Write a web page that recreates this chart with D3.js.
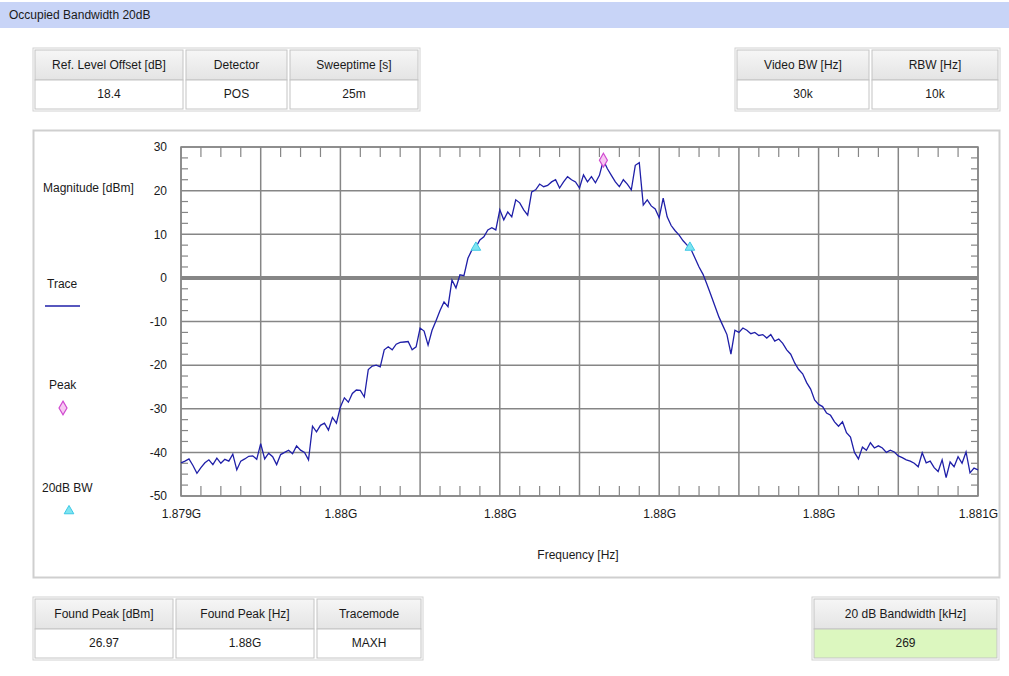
<!DOCTYPE html>
<html>
<head>
<meta charset="utf-8">
<script src="https://cdn.jsdelivr.net/npm/d3@7"></script>
<style>
  body { margin: 0; background: #fff; }
  text { font-family: "Liberation Sans", Arial, sans-serif; font-size: 12px; fill: #1a1a1a; }
</style>
</head>
<body>
<svg id="chart" width="1009" height="676"></svg>
<script>
// sweep: 201 points from 1879 MHz to 1881 MHz
const freqStartMHz = 1879
const freqStopMHz = 1881

// trace levels in dBm
const traceLevels = [
  -42.4, -42.0, -41.5, -43.0, -44.8, -43.5, -42.4, -41.7, -42.8, -41.3,
  -42.5, -41.6, -42.0, -40.4, -44.0, -42.0, -41.5, -40.9, -40.8, -41.6,
  -38.0, -41.5, -40.2, -41.0, -42.8, -40.5, -40.0, -39.5, -40.3, -38.5,
  -39.5, -40.0, -41.7, -34.0, -35.3, -33.8, -33.3, -34.9, -32.0, -33.3,
  -29.6, -27.5, -28.5, -26.5, -25.7, -25.8, -27.3, -21.0, -20.2, -20.0,
  -20.4, -16.5, -15.8, -16.5, -15.2, -14.8, -14.7, -14.6, -16.5, -15.8,
  -11.5, -12.2, -15.4, -12.0, -9.8, -7.5, -5.5, -6.6, -0.5, -2.3,
  0.7, 0.5, 4.5, 6.4, 7.0, 8.7, 9.4, 11.0, 11.5, 11.0,
  15.6, 13.3, 15.1, 14.0, 17.9, 17.2, 15.6, 14.4, 19.7, 20.2,
  21.5, 20.9, 21.2, 22.0, 22.5, 20.6, 22.0, 23.2, 22.5, 22.0,
  20.6, 23.6, 22.0, 23.2, 21.8, 23.5, 26.97, 25.0, 23.5, 22.0,
  20.9, 22.5, 21.5, 20.2, 25.8, 26.4, 16.7, 17.9, 16.5, 15.8,
  13.8, 18.3, 14.0, 12.0, 10.8, 9.8, 8.5, 7.5, 6.5, 4.5,
  2.5, 0.8, -1.5, -4.0, -6.5, -9.0, -11.0, -13.0, -17.5, -12.0,
  -12.5, -11.5, -12.0, -12.8, -12.5, -13.2, -13.0, -13.8, -13.0, -14.5,
  -14.0, -15.0, -16.5, -17.5, -19.5, -21.0, -22.0, -24.0, -25.5, -28.0,
  -29.0, -29.5, -31.0, -31.5, -33.0, -34.0, -33.0, -35.5, -36.5, -40.0,
  -41.5, -38.8, -39.5, -37.8, -39.0, -38.5, -39.0, -40.0, -39.5, -39.9,
  -40.8, -41.2, -41.7, -42.0, -42.5, -43.3, -40.1, -42.4, -42.0, -43.5,
  -44.4, -41.7, -45.8, -42.2, -43.3, -41.0, -42.5, -39.9, -44.7, -43.6,
  -44.0
]

const peakFreqMHz = 1880.06
const peakLevel = 26.97
const bwFreqsMHz = [1879.74, 1880.277]
const bwLevel = 6.97

const yTicks = [30, 20, 10, 0, -10, -20, -30, -40, -50]
const xLabelFreqs = [1879, 1879.4, 1879.8, 1880.2, 1880.6, 1881]
const xTickLabels = ["1.879G", "1.88G", "1.88G", "1.88G", "1.88G", "1.881G"]

const topLeftHeaders = ["Ref. Level Offset [dB]", "Detector", "Sweeptime [s]"]
const topLeftValues = ["18.4", "POS", "25m"]
const topRightHeaders = ["Video BW [Hz]", "RBW [Hz]"]
const topRightValues = ["30k", "10k"]
const bottomLeftHeaders = ["Found Peak [dBm]", "Found Peak [Hz]", "Tracemode"]
const bottomLeftValues = ["26.97", "1.88G", "MAXH"]
const bottomRightHeaders = ["20 dB Bandwidth [kHz]"]
const bottomRightValues = ["269"]

const svg = d3.select("#chart")
const gridColor = "#868686"

let defs = svg.append("defs")
let grad = defs.append("linearGradient").attr("id", "hdr").attr("x1", 0).attr("y1", 0).attr("x2", 0).attr("y2", 1)
grad.append("stop").attr("offset", "0%").attr("stop-color", "#f6f6f6")
grad.append("stop").attr("offset", "100%").attr("stop-color", "#e4e4e4")

// title bar
svg.append("rect").attr("x", 0).attr("y", 2).attr("width", 1009).attr("height", 26).attr("fill", "#c8d4f7")
svg.append("text").attr("x", 9).attr("y", 19).text("Occupied Bandwidth 20dB")

// small parameter tables
function table(x0, y0, widths, headers, values, valueFill) {
  let g = svg.append("g")
  let total = d3.sum(widths) + (widths.length - 1) * 3 + 4
  g.append("rect").attr("x", x0).attr("y", y0).attr("width", total).attr("height", 63)
    .attr("fill", "#fff").attr("stroke", "#d2d2d2")
  let cx = x0 + 2
  widths.forEach((w, i) => {
    g.append("rect").attr("x", cx).attr("y", y0 + 2).attr("width", w).attr("height", 30)
      .attr("fill", "url(#hdr)").attr("stroke", "#c4c4c4")
    g.append("rect").attr("x", cx).attr("y", y0 + 32).attr("width", w).attr("height", 29)
      .attr("fill", valueFill).attr("stroke", "#c4c4c4")
    g.append("text").attr("x", cx + w / 2).attr("y", y0 + 21).attr("text-anchor", "middle").text(headers[i])
    g.append("text").attr("x", cx + w / 2).attr("y", y0 + 50).attr("text-anchor", "middle").text(values[i])
    cx += w + 3
  })
}

table(33, 48, [148, 101, 128], topLeftHeaders, topLeftValues, "#fff")
table(735, 48, [132, 126], topRightHeaders, topRightValues, "#fff")
table(33, 597, [138, 138, 104], bottomLeftHeaders, bottomLeftValues, "#fff")
table(812, 597, [183], bottomRightHeaders, bottomRightValues, "#dcf7bf")

// chart panel
svg.append("rect").attr("x", 33.5).attr("y", 130.5).attr("width", 966).attr("height", 447)
  .attr("fill", "#fff").attr("stroke", "#cfcfcf").attr("stroke-width", 2)

const x = d3.scaleLinear().domain([freqStartMHz, freqStopMHz]).range([181, 978])
const y = d3.scaleLinear().domain([-50, 30]).range([496, 147])
const step = (freqStopMHz - freqStartMHz) / (traceLevels.length - 1)

let plot = svg.append("g")

// grid lines
plot.append("g").selectAll("line").data(d3.range(0, 11).map(i => freqStartMHz + i * 0.2))
  .enter().append("line")
    .attr("x1", d => x(d)).attr("x2", d => x(d))
    .attr("y1", y(30)).attr("y2", y(-50))
    .attr("stroke", gridColor).attr("stroke-width", 1.5)

plot.append("g").selectAll("line").data(yTicks)
  .enter().append("line")
    .attr("x1", x(freqStartMHz)).attr("x2", x(freqStopMHz))
    .attr("y1", d => y(d)).attr("y2", d => y(d))
    .attr("stroke", gridColor)
    .attr("stroke-width", d => d === 0 ? 4 : 1.5)

// minor ticks
let xMinor = d3.range(0, 41).map(i => freqStartMHz + i * 0.05).filter((d, i) => i % 4 !== 0)
let yMinor = d3.range(0, 33).map(i => -50 + i * 2.5).filter((d, i) => i % 4 !== 0)

plot.append("g").selectAll("line").data(xMinor).enter().append("line")
  .attr("x1", d => x(d)).attr("x2", d => x(d))
  .attr("y1", y(30)).attr("y2", y(30) + 10)
  .attr("stroke", gridColor).attr("stroke-width", 1.2)
plot.append("g").selectAll("line").data(xMinor).enter().append("line")
  .attr("x1", d => x(d)).attr("x2", d => x(d))
  .attr("y1", y(-50)).attr("y2", y(-50) - 10)
  .attr("stroke", gridColor).attr("stroke-width", 1.2)
plot.append("g").selectAll("line").data(yMinor).enter().append("line")
  .attr("x1", x(freqStartMHz)).attr("x2", x(freqStartMHz) + 7)
  .attr("y1", d => y(d)).attr("y2", d => y(d))
  .attr("stroke", gridColor).attr("stroke-width", 1.2)
plot.append("g").selectAll("line").data(yMinor).enter().append("line")
  .attr("x1", x(freqStopMHz)).attr("x2", x(freqStopMHz) - 7)
  .attr("y1", d => y(d)).attr("y2", d => y(d))
  .attr("stroke", gridColor).attr("stroke-width", 1.2)

plot.append("rect").attr("x", x(freqStartMHz)).attr("y", y(30))
  .attr("width", x(freqStopMHz) - x(freqStartMHz)).attr("height", y(-50) - y(30))
  .attr("fill", "none").attr("stroke", gridColor).attr("stroke-width", 1.5)

// axes labels
let yAxis = d3.axisLeft(y).tickValues(yTicks).tickSize(0).tickPadding(14)
  .tickFormat(d => String(d))
let yg = svg.append("g").attr("transform", `translate(${x(freqStartMHz)},0)`).call(yAxis)
yg.select(".domain").remove()

let xAxis = d3.axisBottom(x).tickValues(xLabelFreqs).tickSize(0).tickPadding(13)
  .tickFormat((d, i) => xTickLabels[i])
let xg = svg.append("g").attr("transform", `translate(0,${y(-50)})`).call(xAxis)
xg.select(".domain").remove()

svg.selectAll(".tick text").style("font-family", "'Liberation Sans', Arial, sans-serif")
  .style("font-size", "12px").attr("fill", "#1a1a1a")

svg.append("text").attr("x", 578).attr("y", 559).attr("text-anchor", "middle").text("Frequency [Hz]")

// trace
let line = d3.line()
  .x((d, i) => x(freqStartMHz + i * step))
  .y(d => y(d))

plot.append("path").datum(traceLevels)
  .attr("d", line)
  .attr("fill", "none")
  .attr("stroke", "#1f1fa8")
  .attr("stroke-width", 1.3)

// markers
const diamond = d3.symbol().type(d3.symbolDiamond).size(55)
const triangle = d3.symbol().type(d3.symbolTriangle).size(40)

plot.append("path").attr("d", diamond())
  .attr("transform", `translate(${x(peakFreqMHz)},${y(peakLevel)})`)
  .attr("fill", "#f7c8f2").attr("stroke", "#d04ad0").attr("stroke-width", 1.2)

plot.selectAll(".bw").data(bwFreqsMHz).enter().append("path")
  .attr("d", triangle())
  .attr("transform", d => `translate(${x(d)},${y(bwLevel)})`)
  .attr("fill", "#7ee4f0").attr("stroke", "#3cc8e6").attr("stroke-width", 1)

// legend
svg.append("text").attr("x", 43).attr("y", 192).text("Magnitude [dBm]")
svg.append("text").attr("x", 47).attr("y", 288).text("Trace")
svg.append("line").attr("x1", 45).attr("x2", 80).attr("y1", 306).attr("y2", 306)
  .attr("stroke", "#1f1fa8").attr("stroke-width", 1.5)
svg.append("text").attr("x", 49).attr("y", 389).text("Peak")
svg.append("path").attr("d", diamond()).attr("transform", "translate(63,408)")
  .attr("fill", "#f7c8f2").attr("stroke", "#d04ad0").attr("stroke-width", 1.2)
svg.append("text").attr("x", 42).attr("y", 492).text("20dB BW")
svg.append("path").attr("d", triangle()).attr("transform", "translate(69,511)")
  .attr("fill", "#7ee4f0").attr("stroke", "#3cc8e6").attr("stroke-width", 1)
</script>
</body>
</html>
